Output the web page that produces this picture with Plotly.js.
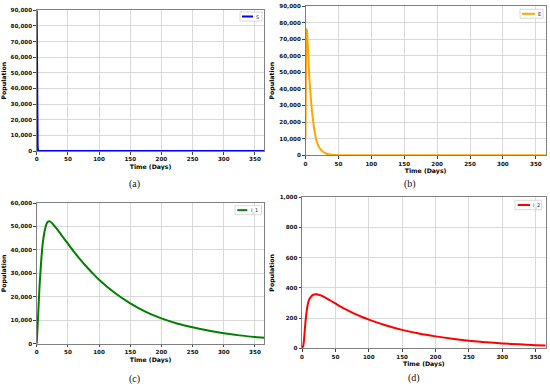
<!DOCTYPE html>
<html>
<head>
<meta charset="utf-8">
<script src="https://cdn.plot.ly/plotly-3.0.1.min.js"></script>
<style>html,body{margin:0;padding:0;background:#fff;}#chart{width:550px;height:386px;}</style>
</head>
<body>
<div id="chart"></div>
<script>
// ---- Data ----
const tS = [0, 0.25, 0.5, 0.75, 1, 1.5, 2, 3, 5, 10, 50, 100, 200, 300, 365];
const S  = [90000, 60000, 38000, 22000, 12000, 3000, 600, 60, 2, 0, 0, 0, 0, 0, 0];

const tE = [0, 0.5, 1, 1.5, 2, 3, 4, 6, 8, 10, 12, 14, 16, 18, 20, 23, 26, 30, 35, 40, 50, 60, 80, 100, 150, 200, 250, 300, 365];
const E  = [10400, 45000, 70000, 76000, 75500, 70000, 62000, 46000, 35000, 26000, 19500, 14000, 9800, 7300, 5400, 3500, 2300, 1300, 600, 280, 60, 15, 1, 0, 0, 0, 0, 0, 0];

const tI = [0, 1, 2, 3, 4, 5, 6, 7, 8, 10, 12, 14, 16, 18, 20, 22, 25, 30, 35, 40, 45, 50, 60, 70, 80, 90, 100, 125, 150, 175, 200, 225, 250, 275, 300, 325, 350, 365];
const I1 = [0, 5000, 10500, 16000, 21500, 26500, 30500, 34500, 38000, 43500, 47000, 49500, 51200, 52000, 52200, 52000, 51300, 49700, 48000, 46200, 44400, 42650, 39150, 35850, 32800, 29950, 27300, 21700, 17200, 13600, 10800, 8650, 7000, 5600, 4450, 3550, 2850, 2500];
const I2 = [0, 8, 20, 55, 110, 165, 210, 245, 275, 315, 333, 345, 352, 356, 358, 358, 355, 347, 336, 323, 310, 297, 271, 248, 226, 207, 190, 153, 122, 98, 79, 63, 50.5, 40.5, 32.5, 26, 21, 18.5];

const xTicks = [0, 50, 100, 150, 200, 250, 300, 350];
const names = ['S', 'E', 'I_1', 'I_2'];
const colors = ['#0000ff', '#ffa500', '#008000', '#ff0000'];
const captions = ['(a)', '(b)', '(c)', '(d)'];
const yMax = [90000, 90000, 60000, 1000];
const yStep = [10000, 10000, 10000, 200];

// ---- Layout helpers ----
const W = 550, H = 386;
const px = x => x / W;
const py = y => 1 - y / H;

// plot boxes in pixels [left, right, top, bottom]
const boxes = [
  [36.7, 264.3, 10.3, 151],
  [305.5, 545.7, 6, 155.3],
  [36.7, 264.3, 203, 343.7],
  [302, 545.7, 197.3, 348.3]
];

const tickFont = {family: 'DejaVu Sans', size: 5.6, color: '#111', weight: 'bold'};
const titleFont = {family: 'DejaVu Sans', size: 6.2, color: '#000', weight: 'bold'};

const xs = [tS, tE, tI, tI];
const ys = [S, E, I1, I2];

const data = [];
const layout = {
  width: W, height: H, autosize: false,
  margin: {l: 0, r: 0, t: 0, b: 0},
  paper_bgcolor: '#fff', plot_bgcolor: '#fff',
  showlegend: false,
  shapes: [], annotations: []
};

for (let i = 0; i < 4; i++) {
  const sfx = i === 0 ? '' : String(i + 1);
  data.push({
    x: xs[i], y: ys[i], name: names[i], type: 'scatter', mode: 'lines',
    line: {color: colors[i], width: 2, shape: i === 0 ? 'linear' : 'spline', smoothing: 0.8},
    xaxis: 'x' + sfx, yaxis: 'y' + sfx
  });
  const b = boxes[i];
  const axCommon = {
    showgrid: true, gridcolor: '#d9d9d9', gridwidth: 1,
    showline: true, linecolor: '#808080', linewidth: 1, mirror: true,
    ticks: 'outside', ticklen: 2.5, tickwidth: 1, tickcolor: '#444',
    tickfont: tickFont, zeroline: false, fixedrange: true
  };
  layout['xaxis' + sfx] = Object.assign({}, axCommon, {
    domain: [px(b[0]), px(b[1])], range: [0, 365],
    tickmode: 'array', tickvals: xTicks, ticktext: xTicks.map(String),
    anchor: 'y' + sfx,
    title: {text: 'Time (Days)', font: titleFont, standoff: 3}
  });
  const yt = [];
  for (let v = 0; v <= yMax[i]; v += yStep[i]) yt.push(v);
  layout['yaxis' + sfx] = Object.assign({}, axCommon, {
    domain: [py(b[3]), py(b[2])], range: [0, yMax[i]],
    tickmode: 'array', tickvals: yt, tickformat: ',d',
    anchor: 'x' + sfx,
    title: {text: 'Population', font: titleFont, standoff: 4}
  });
}

// captions
const capPos = [[134.5, 184.5], [409.5, 184.5], [134.5, 378.5], [413.5, 377.5]];
capPos.forEach((p, i) => {
  layout.annotations.push({
    xref: 'paper', yref: 'paper', x: px(p[0]), y: py(p[1]),
    text: captions[i], showarrow: false, xanchor: 'center', yanchor: 'middle',
    font: {family: 'Liberation Serif', size: 10, color: '#111'}
  });
});

// legends: [boxL, boxR, boxT, boxB, lineL, lineR, textX]
const leg = [
  [240, 262, 12, 21, 242, 253, 257.5],
  [520, 543, 9.3, 18.3, 522, 535, 539.5],
  [235, 261.5, 205.7, 214.7, 237.3, 247.3, 254.5],
  [515, 541.5, 200.3, 209.7, 517.7, 530, 536.5]
];
leg.forEach((g, i) => {
  layout.shapes.push({
    type: 'rect', xref: 'paper', yref: 'paper',
    x0: px(g[0]), x1: px(g[1]), y0: py(g[3]), y1: py(g[2]),
    line: {color: '#d0d0d0', width: 0.8}, fillcolor: 'rgba(255,255,255,0.9)'
  });
  const ym = (g[2] + g[3]) / 2;
  layout.shapes.push({
    type: 'line', xref: 'paper', yref: 'paper',
    x0: px(g[4]), x1: px(g[5]), y0: py(ym), y1: py(ym),
    line: {color: colors[i], width: 2}
  });
  layout.annotations.push({
    xref: 'paper', yref: 'paper', x: px(g[6]), y: py(ym),
    text: names[i], showarrow: false, xanchor: 'center', yanchor: 'middle',
    font: {family: 'DejaVu Sans', size: 5, color: '#333'}
  });
});

Plotly.newPlot('chart', data, layout, {displayModeBar: false, staticPlot: true});
</script>
</body>
</html>
